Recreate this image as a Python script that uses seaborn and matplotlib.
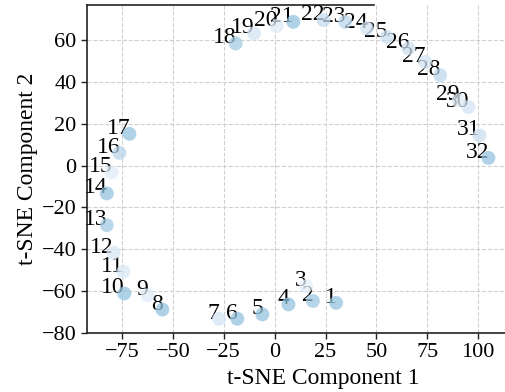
import matplotlib
matplotlib.use('Agg')
import matplotlib.pyplot as plt
import seaborn as sns
import pandas as pd

# t-SNE coordinates, points 1..32
labels = list(range(1, 33))
comp1 = [30.2, 18.8, 15.5, 6.8, -6.0, -18.3, -27.3, -55.1, -62.3, -73.8,
         -74.3, -79.2, -82.4, -82.4, -80.0, -76.2, -71.3, -19.1, -10.1, 1.1,
         9.2, 24.0, 34.6, 45.3, 55.1, 65.7, 73.9, 81.3, 90.3, 95.2,
         100.6, 105.0]
comp2 = [-65.6, -64.7, -57.6, -66.3, -71.1, -73.2, -73.2, -68.8, -62.0, -61.1,
         -50.7, -41.6, -28.5, -13.3, -3.2, 6.1, 15.2, 58.4, 63.2, 66.7,
         68.7, 69.5, 68.7, 65.6, 61.5, 56.0, 49.5, 43.2, 31.2, 28.0,
         14.4, 3.7]
# shade of each marker (Blues scale)
shade = [0.4, 0.38, 0.1, 0.4, 0.4, 0.4, 0.18, 0.4, 0.12, 0.4,
         0.16, 0.16, 0.36, 0.4, 0.12, 0.3, 0.4, 0.36, 0.18, 0.12,
         0.4, 0.25, 0.28, 0.18, 0.22, 0.22, 0.18, 0.28, 0.12, 0.18,
         0.22, 0.4]

df = pd.DataFrame({'c1': comp1, 'c2': comp2, 'shade': shade, 'label': labels})

sns.set_style('whitegrid', {'grid.linestyle': '--', 'grid.color': '#d0d0d0',
                            'axes.edgecolor': '#222222', 'xtick.bottom': True,
                            'ytick.left': True, 'text.color': 'black',
                            'axes.labelcolor': 'black', 'xtick.color': 'black',
                            'ytick.color': 'black'})
plt.rcParams['font.family'] = ['Liberation Serif', 'DejaVu Serif']

fig = plt.figure(figsize=(5.06, 3.92), dpi=100)
# axes run past the right edge of the image, as in the reference
ax = fig.add_axes([0.172, 0.1505, 0.933, 0.8365])

sns.scatterplot(data=df, x='c1', y='c2', hue='shade', palette='Blues',
                hue_norm=(0, 1), s=100, alpha=0.75, linewidth=0, legend=False,
                zorder=4, ax=ax)

for _, r in df.iterrows():
    ax.annotate(str(int(r['label'])), (r['c1'], r['c2']), xytext=(0.5, 0),
                textcoords='offset points', ha='right', va='baseline',
                fontsize=17, zorder=3)

ax.set_xlim(-92.1, 139.7)
ax.set_ylim(-80, 76.7)
ax.set_xticks([-75, -50, -25, 0, 25, 50, 75, 100])
ax.set_yticks([-80, -60, -40, -20, 0, 20, 40, 60])
ax.set_xlabel('t-SNE Component 1', fontsize=17, labelpad=4)
ax.set_ylabel('t-SNE Component 2', fontsize=17, labelpad=3)
ax.tick_params(labelsize=16, length=4, width=1, color='#222222', pad=3.5)
ax.grid(True, linestyle='--', color='#d0d0d0', linewidth=0.8)
ax.spines['right'].set_visible(False)
ax.spines['top'].set_bounds(-92.1, 49)
for sp in ax.spines.values():
    sp.set_linewidth(1.2)

fig.savefig('out.png', dpi=100)
